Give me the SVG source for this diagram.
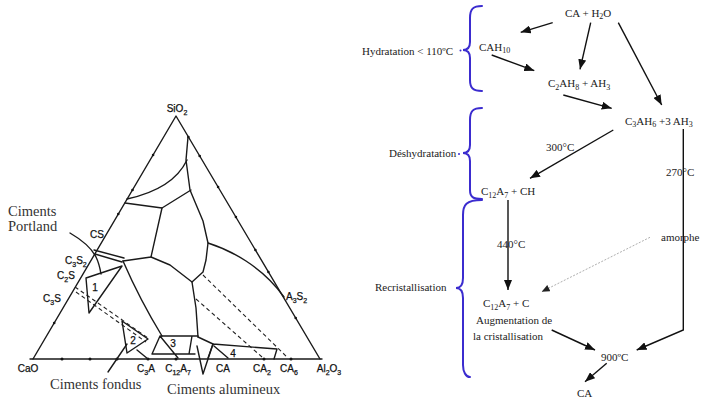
<svg xmlns="http://www.w3.org/2000/svg" width="701" height="404" viewBox="0 0 701 404">
<defs>
<style>
.tl{fill:none;stroke:#1a1a1a;stroke-width:1.4;stroke-linejoin:round;stroke-linecap:round}
.ds{fill:none;stroke:#222;stroke-width:1.1;stroke-dasharray:4 3}
.lab{font-family:"Liberation Sans",Arial,sans-serif;font-size:10px;fill:#111;stroke:#111;stroke-width:0.25}
.cim{font-family:"Liberation Serif","Times New Roman",serif;font-size:14.5px;fill:#333}
.ft{font-family:"Liberation Serif","Times New Roman",serif;font-size:11px;fill:#222}
.br{fill:none;stroke:#3b2ccf;stroke-width:2;stroke-linecap:round}
.ar{fill:none;stroke:#111;stroke-width:1.4}
.tk{fill:#111}
</style>
<marker id="ah" markerUnits="userSpaceOnUse" markerWidth="10" markerHeight="8" refX="10" refY="4" orient="auto">
<path d="M0,0 L10,4 L0,8 z" fill="#111"/>
</marker>
<marker id="ahs" markerUnits="userSpaceOnUse" markerWidth="8" markerHeight="7" refX="8" refY="3.5" orient="auto">
<path d="M0,0 L8,3.5 L0,7 z" fill="#222"/>
</marker>
</defs>
<rect width="701" height="404" fill="#fff"/>

<!-- Ternary diagram -->
<g id="ternary">
<path class="tl" d="M33,359 L176,116 L320,359"/>
<line class="tl" x1="30" y1="359" x2="322" y2="359"/>
<g id="ticks">
<circle class="tk" cx="153.1" cy="155" r="1.3"/>
<circle class="tk" cx="132.5" cy="190" r="1.3"/>
<circle class="tk" cx="118.3" cy="214" r="1.3"/>
<circle class="tk" cx="54.2" cy="323" r="1.3"/>
<circle class="tk" cx="188.4" cy="137" r="1.3"/>
<circle class="tk" cx="199.7" cy="156" r="1.3"/>
<circle class="tk" cx="218.1" cy="187" r="1.3"/>
<circle class="tk" cx="235.9" cy="217" r="1.3"/>
<circle class="tk" cx="255.4" cy="250" r="1.3"/>
<circle class="tk" cx="268.4" cy="272" r="1.3"/>
<circle class="tk" cx="295.7" cy="318" r="1.3"/>
<circle class="tk" cx="62" cy="359" r="1.5"/>
<circle class="tk" cx="90" cy="359" r="1.5"/>
<circle class="tk" cx="117" cy="359" r="1.5"/>
<circle class="tk" cx="148" cy="359" r="1.5"/>
<circle class="tk" cx="176" cy="359" r="1.5"/>
<circle class="tk" cx="264" cy="359" r="1.5"/>
<circle class="tk" cx="291" cy="359" r="1.5"/>
</g>
<!-- boundaries -->
<path class="tl" d="M188,137 L186,160 L190,190 L195,202 L203,221 L208,243 L206,260 L203,272 L192,282 L196,308 L198,337"/>
<path class="tl" d="M127,199 C150,194 176,183 187,160"/>
<path class="tl" d="M125,203 L162,208 L191,190"/>
<path class="tl" d="M162,208 L151,257 L123,261"/>
<path class="tl" d="M151,257 L170,265 L192,282"/>
<path class="tl" d="M208,243 C230,250 262,266 284,297"/>
<path class="tl" d="M123,261 Q140,300 162,336"/>
<path class="tl" d="M70,233 C82,240 92,249 96,257 C99,263 100,268 101,274"/>
<!-- double lines -->
<line class="tl" x1="94" y1="250" x2="124" y2="258" stroke-width="1"/>
<line class="tl" x1="95" y1="254" x2="122" y2="262" stroke-width="1"/>
<line class="ds" x1="75" y1="287" x2="148" y2="338"/>
<line class="ds" x1="76" y1="292" x2="146" y2="342"/>
<line class="ds" x1="203" y1="275" x2="288" y2="358"/>
<line class="ds" x1="196" y1="299" x2="262" y2="357"/>
<!-- fields -->
<path class="tl" d="M86,278 L122,266 L89,313 Z"/>
<path class="tl" d="M122,321 L148,339 L127,353 Z"/>
<path class="tl" d="M108,372 L127,344"/>
<path class="tl" d="M137,350 L148,359"/>
<path class="tl" d="M160,336 L198,336 M160,336 L152,354 L195,354 M160,336 L178,358 M192,336 L189,354"/>
<path class="tl" d="M197,346 L203,374 L213,344"/>
<path class="tl" d="M198,337 L213,344 L277,349 L274,359 M213,344 L208,358 M214,346 L228,358"/>
<!-- labels -->
<text class="lab" x="177" y="112" text-anchor="middle">SiO<tspan font-size="7" dy="2.5">2</tspan></text>
<text class="lab" x="90" y="238">CS</text>
<text class="lab" x="65" y="264">C<tspan font-size="7" dy="2.5">3</tspan><tspan dy="-2.5">S</tspan><tspan font-size="7" dy="2.5">2</tspan></text>
<text class="lab" x="57" y="279">C<tspan font-size="7" dy="2.5">2</tspan><tspan dy="-2.5">S</tspan></text>
<text class="lab" x="43" y="302">C<tspan font-size="7" dy="2.5">3</tspan><tspan dy="-2.5">S</tspan></text>
<text class="lab" x="286" y="300">A<tspan font-size="7" dy="2.5">3</tspan><tspan dy="-2.5">S</tspan><tspan font-size="7" dy="2.5">2</tspan></text>
<text class="lab" x="95" y="291" text-anchor="middle">1</text>
<text class="lab" x="133" y="344" text-anchor="middle">2</text>
<text class="lab" x="173" y="347" text-anchor="middle">3</text>
<text class="lab" x="233" y="357" text-anchor="middle">4</text>
<text class="lab" x="28" y="372" text-anchor="middle">CaO</text>
<text class="lab" x="146" y="372" text-anchor="middle">C<tspan font-size="7" dy="2.5">3</tspan><tspan dy="-2.5">A</tspan></text>
<text class="lab" x="178" y="372" text-anchor="middle">C<tspan font-size="7" dy="2.5">12</tspan><tspan dy="-2.5">A</tspan><tspan font-size="7" dy="2.5">7</tspan></text>
<text class="lab" x="216" y="372">CA</text>
<text class="lab" x="262" y="372" text-anchor="middle">CA<tspan font-size="7" dy="2.5">2</tspan></text>
<text class="lab" x="289" y="372" text-anchor="middle">CA<tspan font-size="7" dy="2.5">6</tspan></text>
<text class="lab" x="329" y="372" text-anchor="middle">Al<tspan font-size="7" dy="2.5">2</tspan><tspan dy="-2.5">O</tspan><tspan font-size="7" dy="2.5">3</tspan></text>
<text class="cim" x="8" y="216">Ciments</text>
<text class="cim" x="8" y="231">Portland</text>
<text class="cim" x="50" y="389">Ciments fondus</text>
<text class="cim" x="167" y="394">Ciments alumineux</text>
</g>

<!-- Flowchart -->
<g id="braces">
<path class="br" d="M482,6 C473,6 470,9 470,18 L470,42 C470,48 467,50 463,50 C467,50 470,52 470,58 L470,80 C470,88 473,91 482,91"/>
<path class="br" d="M482,108 C473,108 470,111 470,120 L470,145 C470,151 467,153 463,153 C467,153 470,155 470,161 L470,190 C470,197 473,199 482,199"/>
<path class="br" d="M482,200 C466,200 463,205 463,215 L463,278 C463,285 460,288 456,288 C460,288 463,291 463,298 L463,365 C463,372 466,377 470,377"/>
<circle cx="460.5" cy="50.5" r="1" fill="#3b2ccf"/>
<circle cx="459" cy="154" r="1" fill="#3b2ccf"/>
</g>

<g id="n-hydratation"><text class="ft" x="362" y="54.5">Hydratation &lt; 110ºC</text></g>
<g id="n-deshydratation"><text class="ft" x="389" y="156.5">Déshydratation</text></g>
<g id="n-recristallisation"><text class="ft" x="375" y="290.5">Recristallisation</text></g>
<g id="n-ca-h2o"><text class="ft" x="565" y="16.5">CA + H<tspan font-size="8" dy="2.5">2</tspan><tspan dy="-2.5">O</tspan></text></g>
<g id="n-cah10"><text class="ft" x="479" y="50.5">CAH<tspan font-size="8" dy="2.5">10</tspan></text></g>
<g id="n-c2ah8"><text class="ft" x="548" y="87">C<tspan font-size="8" dy="2.5">2</tspan><tspan dy="-2.5">AH</tspan><tspan font-size="8" dy="2.5">8</tspan><tspan dy="-2.5"> + AH</tspan><tspan font-size="8" dy="2.5">3</tspan></text></g>
<g id="n-c3ah6"><text class="ft" x="625" y="124.5">C<tspan font-size="8" dy="2.5">3</tspan><tspan dy="-2.5">AH</tspan><tspan font-size="8" dy="2.5">6</tspan><tspan dy="-2.5"> +3 AH</tspan><tspan font-size="8" dy="2.5">3</tspan></text></g>
<g id="n-c12a7-ch"><text class="ft" x="481" y="195">C<tspan font-size="8" dy="2.5">12</tspan><tspan dy="-2.5">A</tspan><tspan font-size="8" dy="2.5">7</tspan><tspan dy="-2.5"> + CH</tspan></text></g>
<g id="n-c12a7-c">
<text class="ft" x="483" y="307">C<tspan font-size="8" dy="2.5">12</tspan><tspan dy="-2.5">A</tspan><tspan font-size="8" dy="2.5">7</tspan><tspan dy="-2.5"> + C</tspan></text>
<text class="ft" x="476" y="323.5">Augmentation de</text>
<text class="ft" x="473" y="339.5">la cristallisation</text>
</g>
<g id="n-900"><text class="ft" x="601" y="361">900ºC</text></g>
<g id="n-ca"><text class="ft" x="577" y="396.5">CA</text></g>

<g id="connectors">
<line class="ar" x1="552.7" y1="22.7" x2="520.7" y2="32.3" marker-end="url(#ah)"/>
<line class="ar" x1="590.7" y1="22.7" x2="580" y2="69.3" marker-end="url(#ah)"/>
<line class="ar" x1="618.3" y1="22.7" x2="661.7" y2="105" marker-end="url(#ah)"/>
<line class="ar" x1="491.7" y1="55" x2="534.3" y2="70.7" marker-end="url(#ah)"/>
<line class="ar" x1="563.3" y1="95" x2="611.7" y2="108.3" marker-end="url(#ah)"/>
<line class="ar" x1="613.3" y1="130" x2="530" y2="178.3" marker-end="url(#ah)"/>
<line class="ar" x1="508" y1="200" x2="508" y2="290" marker-end="url(#ah)" stroke-width="1.2"/>
<line x1="650" y1="237.3" x2="541.7" y2="291.7" stroke="#999" stroke-width="0.8" stroke-dasharray="2 1.5" marker-end="url(#ahs)"/>
<polyline class="ar" points="683.3,129 683.3,330 636.7,350" stroke="#444" stroke-width="1.3" marker-end="url(#ah)"/>
<line class="ar" x1="551.7" y1="330" x2="595" y2="350" marker-end="url(#ah)"/>
<line class="ar" x1="606.7" y1="363.3" x2="585" y2="381.7" marker-end="url(#ah)"/>
<text class="ft" x="546" y="151">300°C</text>
<text class="ft" x="666" y="175.5">270°C</text>
<text class="ft" x="497" y="248">440°C</text>
<text class="ft" x="661" y="240.5">amorphe</text>
</g>
</svg>
